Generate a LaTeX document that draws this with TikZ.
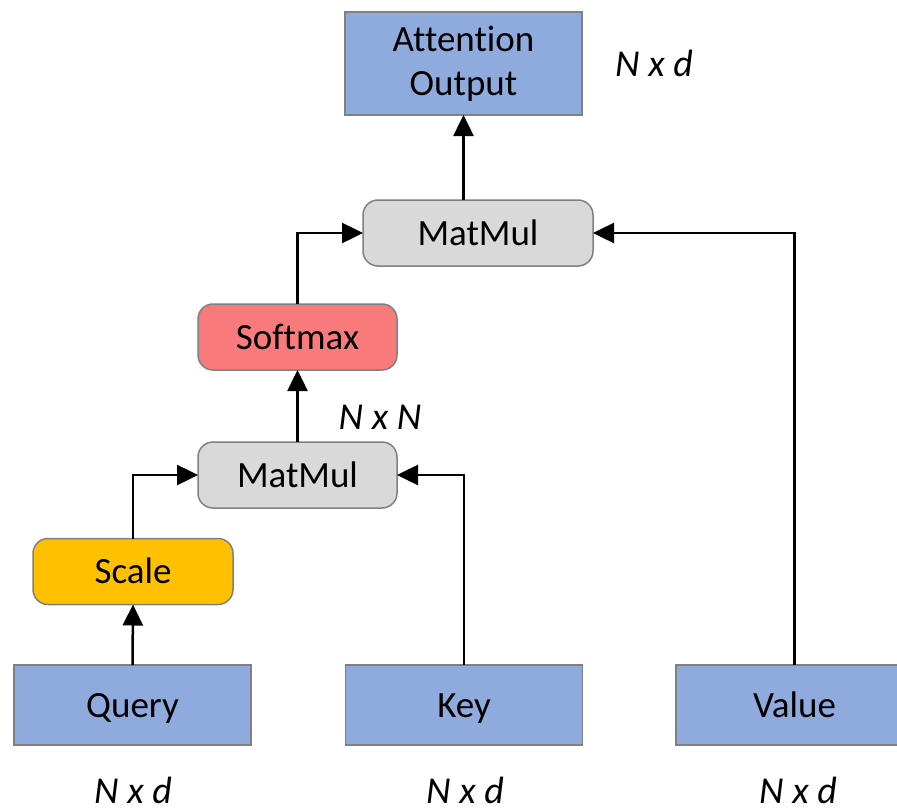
\documentclass[tikz,border=0pt]{standalone}
\usepackage{fontspec}
\setmainfont[Ligatures=NoCommon]{Carlito}
\usetikzlibrary{arrows.meta}
\definecolor{inblue}{HTML}{8FAADC}
\definecolor{opgray}{HTML}{D9D9D9}
\definecolor{softred}{HTML}{F87A7B}
\definecolor{scaleyel}{HTML}{FFC000}
\definecolor{edgegray}{HTML}{808080}
\begin{document}
\begin{tikzpicture}[x=1pt,y=-1pt,
  every node/.style={font=\fontsize{37}{44}\selectfont, inner sep=0pt, outer sep=0pt},
  oneline/.style={text height=24pt, text depth=0pt},
  tensor/.style={draw=edgegray, line width=1.5pt, fill=inblue, minimum width=237pt, minimum height=80pt, align=center},
  op/.style={draw=edgegray, line width=1.5pt, rounded corners=15pt, minimum height=66pt, oneline},
  dimlabel/.style={font=\fontsize{38}{44}\selectfont\itshape, anchor=base},
  flow/.style={line width=2.5pt, -{Triangle[length=21pt,width=20pt]}}]
\useasboundingbox (0,0) rectangle (897,811);
\clip (0,0) rectangle (897,811);

% operation blocks
\node[tensor, minimum height=103pt] (out) at (463.5,63.5) {Attention\\Output};
\node[op, fill=opgray, minimum width=230pt] (mm2) at (478,233) {MatMul};
\node[op, fill=softred, minimum width=199pt] (soft) at (297.5,337) {Softmax};
\node[op, fill=opgray, minimum width=199pt] (mm1) at (297.5,475) {MatMul};
\node[op, fill=scaleyel, minimum width=200pt] (scale) at (133,571.5) {Scale};

% inputs
\node[tensor, oneline] (q) at (132.5,705) {Query};
\node[tensor, oneline] (k) at (464,705) {Key};
\node[tensor, oneline] (v) at (794.5,705) {Value};

% shape annotations
\node[dimlabel] (dout) at (654,76) {N x d};
\node[dimlabel] (dnn) at (380,429) {N x N};
\node[dimlabel] (dq) at (133,803) {N x d};
\node[dimlabel] (dk) at (465,803) {N x d};
\node[dimlabel] (dv) at (798,803) {N x d};

% connectors
\draw[flow] (q.north) -- (scale.south);
\draw[flow] (scale.north) |- (mm1.west);
\draw[flow] (k.north) |- (mm1.east);
\draw[flow] (mm1.north) -- (soft.south);
\draw[flow] (soft.north) |- (mm2.west);
\draw[flow] (v.north) |- (mm2.east);
\draw[flow] (mm2.north -| out.south) -- (out.south);
\end{tikzpicture}
\end{document}
